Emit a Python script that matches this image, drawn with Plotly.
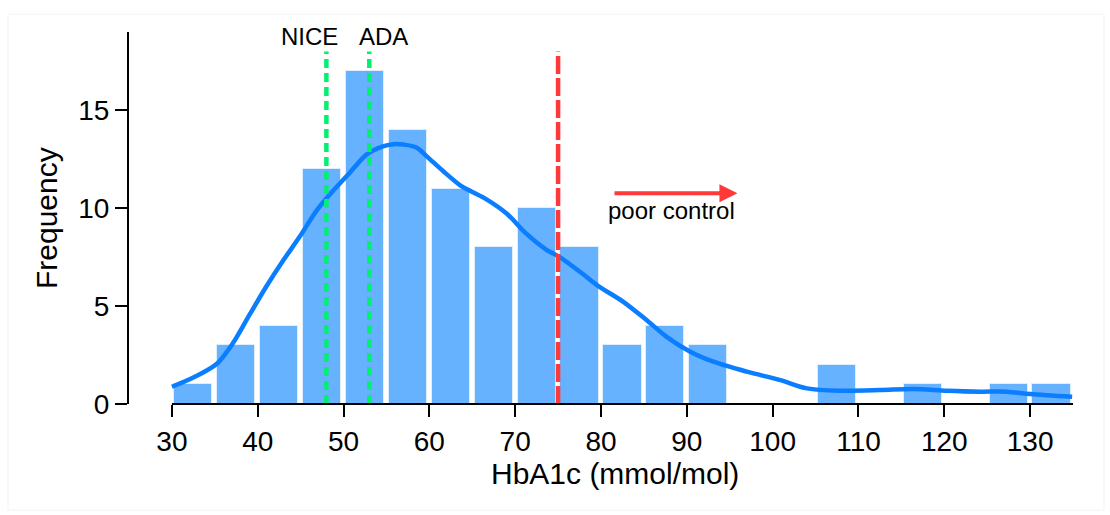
import plotly.graph_objects as go

# ---- data ----
bin_left = [30, 35, 40, 45, 50, 55, 60, 65, 70, 75, 80, 85, 90, 95, 100, 105, 110, 115, 120, 125, 130]
counts = [1, 3, 4, 12, 17, 14, 11, 8, 10, 8, 3, 4, 3, 0, 0, 2, 0, 1, 0, 1, 1]
bin_width = 5

curve_x = [30.0, 32.5, 35.2, 37.1, 39.1, 41.0, 43.0, 44.9, 46.9, 48.8, 50.7, 52.7, 54.5, 55.8,
           57.0, 58.5, 59.7, 61.6, 63.6, 64.7, 66.7, 69.0, 71.3, 73.7, 75.2, 77.7, 79.6, 82.6,
           85.3, 87.65, 90.4, 93.1, 97.0, 100.9, 104.0, 107.9, 112.5, 116.4, 120.3, 124.2,
           127.3, 130.0, 134.9]
curve_y = [0.88, 1.35, 2.04, 3.1, 4.6, 6.0, 7.35, 8.55, 9.9, 10.9, 11.8, 12.75, 13.15, 13.27,
           13.25, 13.1, 12.65, 11.9, 11.17, 10.9, 10.44, 9.73, 8.7, 7.86, 7.5, 6.7, 6.05, 5.22,
           4.29, 3.43, 2.67, 2.16, 1.65, 1.22, 0.8, 0.68, 0.71, 0.77, 0.68, 0.63,
           0.63, 0.51, 0.37]

nice_value = 48
ada_value = 53
poor_control_value = 75
x_ticks = [30, 40, 50, 60, 70, 80, 90, 100, 110, 120, 130]
y_ticks = [0, 5, 10, 15]

FONT = "Liberation Sans, Arial, sans-serif"
W, H = 1110, 515
L, R, T, B = 129, 37, 32, 111
pw, ph = W - L - R, H - T - B


def px2paper_x(px):
    return (px - L) / pw


def px2paper_y(py):
    return (H - B - py) / ph


bx = [b + bin_width / 2 for b, c in zip(bin_left, counts) if c > 0]
by = [c for c in counts if c > 0]

fig = go.Figure()
fig.add_trace(go.Bar(
    x=bx, y=by, width=bin_width * 0.89,
    marker=dict(color="#66B2FF", line=dict(color="#DDEEFF", width=1)),
    hoverinfo="x+y", showlegend=False,
))
fig.add_trace(go.Scatter(
    x=curve_x, y=curve_y, mode="lines",
    line=dict(color="#0A7EFF", width=4.5, shape="spline", smoothing=0.9),
    showlegend=False,
))

shapes = []
for v in (nice_value, ada_value):
    shapes.append(dict(type="line", xref="x", yref="y", x0=v, x1=v, y0=0, y1=18,
                       line=dict(color="#00F070", width=4.5, dash="9px,5px")))
shapes.append(dict(type="line", xref="x", yref="y", x0=poor_control_value, x1=poor_control_value,
                   y0=0, y1=18, line=dict(color="#FF3838", width=4.5, dash="18px,4px")))
# detached x-axis line
shapes.append(dict(type="line", xref="x", yref="paper", x0=30, x1=135, y0=0, y1=0,
                   line=dict(color="black", width=2)))
# faint outer frame
shapes.append(dict(type="rect", xref="paper", yref="paper",
                   x0=px2paper_x(8), x1=px2paper_x(1104), y0=px2paper_y(14), y1=px2paper_y(510),
                   line=dict(color="#F2F2F2", width=1), layer="below"))

annotations = [
    dict(text="NICE", x=49.6, y=18.78, xref="x", yref="y", xanchor="right", yanchor="middle",
         showarrow=False, font=dict(family=FONT, size=24, color="black")),
    dict(text="ADA", x=51.6, y=18.78, xref="x", yref="y", xanchor="left", yanchor="middle",
         showarrow=False, font=dict(family=FONT, size=24, color="black")),
    dict(text="", x=95.9, y=10.77, ax=81.4, ay=10.77, xref="x", yref="y", axref="x", ayref="y",
         showarrow=True, arrowhead=2, arrowsize=0.9, arrowwidth=4, arrowcolor="#FF3838", standoff=0),
    dict(text="poor control", x=80.6, y=9.9, xref="x", yref="y", xanchor="left", yanchor="middle",
         showarrow=False, font=dict(family=FONT, size=24, color="black")),
    dict(text="HbA1c (mmol/mol)", x=px2paper_x(615), y=px2paper_y(473), xref="paper", yref="paper",
         xanchor="center", yanchor="middle", showarrow=False,
         font=dict(family=FONT, size=30, color="black")),
    dict(text="Frequency", x=px2paper_x(46), y=px2paper_y(218), xref="paper", yref="paper",
         xanchor="center", yanchor="middle", showarrow=False, textangle=-90,
         font=dict(family=FONT, size=30, color="black")),
]

fig.update_layout(
    width=W, height=H,
    margin=dict(l=L, r=R, t=T, b=B, autoexpand=False),
    paper_bgcolor="white", plot_bgcolor="white",
    bargap=0,
    shapes=shapes, annotations=annotations,
    font=dict(family=FONT, color="black"),
    xaxis=dict(range=[25, 135], tickvals=x_ticks, ticks="outside", ticklen=12, tickwidth=2,
               tickcolor="black", showline=False, showgrid=False, zeroline=False,
               tickfont=dict(family=FONT, size=28, color="black")),
    yaxis=dict(range=[0, 19], tickvals=y_ticks, ticks="outside", ticklen=12, tickwidth=2,
               tickcolor="black", showline=True, linecolor="black", linewidth=2,
               showgrid=False, zeroline=False,
               tickfont=dict(family=FONT, size=28, color="black")),
)

fig.write_html("out.html")
